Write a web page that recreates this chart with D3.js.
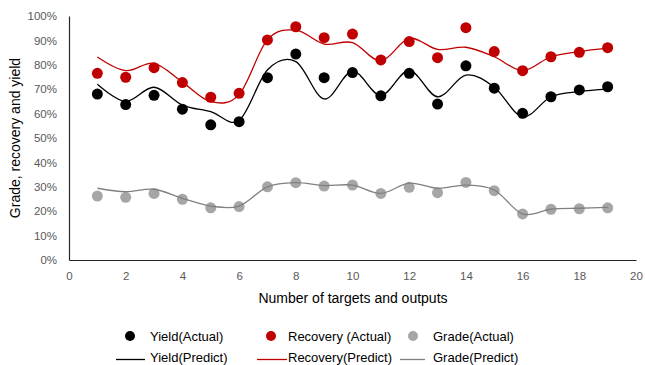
<!DOCTYPE html>
<html>
<head>
<meta charset="utf-8">
<script src="https://cdn.jsdelivr.net/npm/d3@7"></script>
<style>
  html, body { margin: 0; padding: 0; background: #fff; }
  svg { display: block; font-family: "Liberation Sans", Arial, sans-serif; }
</style>
</head>
<body>
<svg id="chart" width="645" height="365"></svg>
<script>
const xValues = [1,2,3,4,5,6,7,8,9,10,11,12,13,14,15,16,17,18,19];
const yieldActual = [68.0,63.7,67.5,61.8,55.4,56.7,74.7,84.4,74.7,76.8,67.3,76.5,63.9,79.6,70.4,60.1,66.9,69.7,71.0];
const recoveryActual = [76.5,74.9,78.8,72.7,66.7,68.3,90.2,95.6,91.1,92.6,82.0,89.5,82.9,95.2,85.4,77.6,83.3,85.1,87.0];
const gradeActual = [26.2,25.7,27.3,24.9,21.4,21.9,30.0,31.7,30.3,30.7,27.3,29.8,27.6,31.8,28.4,18.9,20.8,21.0,21.4];
const yieldPredict = [72.0,65.0,70.8,63.5,60.8,57.2,77.9,81.3,66.0,77.4,67.4,77.7,66.9,75.8,70.8,58.7,66.9,69.0,70.0];
const recoveryPredict = [83.2,77.6,80.6,72.9,64.9,67.8,90.3,94.2,88.5,89.1,81.6,90.8,86.3,87.2,83.3,77.6,83.3,85.4,86.8];
const gradePredict = [29.4,28.0,29.0,25.3,22.1,22.1,30.0,31.7,30.5,30.7,27.3,31.5,29.4,30.7,28.7,18.9,20.8,21.2,21.6];
const xTicks = [0,2,4,6,8,10,12,14,16,18,20];
const yTicks = [0,10,20,30,40,50,60,70,80,90,100];
const xTitle = "Number of targets and outputs";
const yTitle = "Grade, recovery and yield";

const actualSeries = [
  {name: "Yield(Actual)", values: yieldActual, color: "#000000"},
  {name: "Recovery (Actual)", values: recoveryActual, color: "#C00000"},
  {name: "Grade(Actual)", values: gradeActual, color: "#A6A6A6"}
];
const predictSeries = [
  {name: "Yield(Predict)", values: yieldPredict, color: "#000000"},
  {name: "Recovery(Predict)", values: recoveryPredict, color: "#C00000"},
  {name: "Grade(Predict)", values: gradePredict, color: "#808080"}
];

const svg = d3.select("#chart");
const x = d3.scaleLinear().domain([0, 20]).range([69, 636]);
const y = d3.scaleLinear().domain([0, 100]).range([260, 16]);

// axes
const xAxis = svg.append("g").attr("transform", `translate(0,${y(0)})`)
  .call(d3.axisBottom(x).tickValues(xTicks).tickSize(0).tickPadding(12).tickFormat(d3.format("d")));
xAxis.select(".domain").attr("stroke", "#262626").attr("stroke-width", 1.2);
xAxis.selectAll("text").attr("fill", "#595959").style("font-size", "11.5px").style("font-family", "Liberation Sans, Arial, sans-serif");

const yAxis = svg.append("g").attr("transform", `translate(${x(0)},0)`)
  .call(d3.axisLeft(y).tickValues(yTicks).tickSize(0).tickPadding(12).tickFormat(d => d + "%"));
yAxis.select(".domain").attr("stroke", "#262626").attr("stroke-width", 1.2);
yAxis.selectAll("text").attr("fill", "#595959").style("font-size", "11.5px").style("font-family", "Liberation Sans, Arial, sans-serif");

// titles
svg.append("text").attr("x", 353).attr("y", 303).attr("text-anchor", "middle")
  .style("font-size", "14px").attr("fill", "#000").text(xTitle);
svg.append("text").attr("transform", "translate(20,138) rotate(-90)").attr("text-anchor", "middle")
  .style("font-size", "14px").attr("fill", "#000").text(yTitle);

// dots
actualSeries.forEach(s => {
  svg.append("g").selectAll("circle").data(xValues.map((xv, i) => [xv, s.values[i]]))
    .join("circle")
    .attr("cx", d => x(d[0])).attr("cy", d => y(d[1])).attr("r", 5.5)
    .attr("fill", s.color);
});

// predict lines
const line = d3.line().x(d => x(d[0])).y(d => y(d[1])).curve(d3.curveCardinal.tension(0));
predictSeries.forEach(s => {
  svg.append("path").datum(xValues.map((xv, i) => [xv, s.values[i]]))
    .attr("d", line).attr("fill", "none").attr("stroke", s.color).attr("stroke-width", 1.3);
});

// legend
const legendActualX = [130, 271, 413];
const legendActualTextX = [150, 288, 433];
const legendPredictX = [[116,145],[257,287],[400,425]];
const legendPredictTextX = [150, 288, 433];
actualSeries.forEach((s, i) => {
  svg.append("circle").attr("cx", legendActualX[i]).attr("cy", 336).attr("r", 5).attr("fill", s.color);
  svg.append("text").attr("x", legendActualTextX[i]).attr("y", 340.5).style("font-size", "13px").attr("fill", "#000").text(s.name);
});
predictSeries.forEach((s, i) => {
  svg.append("line").attr("x1", legendPredictX[i][0]).attr("x2", legendPredictX[i][1])
    .attr("y1", 359.5).attr("y2", 359.5).attr("stroke", s.color).attr("stroke-width", 1.3);
  svg.append("text").attr("x", legendPredictTextX[i]).attr("y", 361.5).style("font-size", "13px").attr("fill", "#000").text(s.name);
});
</script>
</body>
</html>
